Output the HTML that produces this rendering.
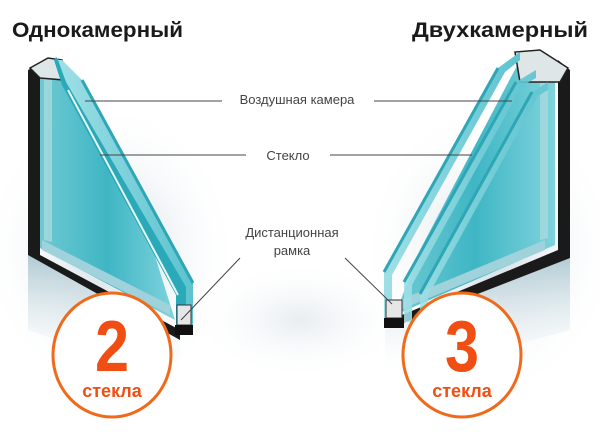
<!DOCTYPE html>
<html><head><meta charset="utf-8"><style>
html,body{margin:0;padding:0;background:#fff;}
svg{display:block}
</style></head><body>
<svg width="600" height="438" viewBox="0 0 600 438" xmlns="http://www.w3.org/2000/svg">
<defs>
<radialGradient id="sh" cx="0.5" cy="0.5" r="0.5">
<stop offset="0" stop-color="#c9d6df" stop-opacity="0.9"/>
<stop offset="1" stop-color="#ffffff" stop-opacity="0"/>
</radialGradient>
<linearGradient id="gl" x1="0" y1="0" x2="1" y2="0">
<stop offset="0" stop-color="#6ec9d3"/>
<stop offset="0.5" stop-color="#3fb6c4"/>
<stop offset="1" stop-color="#7fd3dc"/>
</linearGradient>
<linearGradient id="gl2" x1="0" y1="0" x2="1" y2="0">
<stop offset="0" stop-color="#9fdfe6"/>
<stop offset="1" stop-color="#5cc3cf"/>
</linearGradient>
<linearGradient id="ref" x1="0" y1="0" x2="0" y2="1">
<stop offset="0" stop-color="#a9c5cf"/>
<stop offset="1" stop-color="#ffffff" stop-opacity="0"/>
</linearGradient>
</defs>
<rect width="600" height="438" fill="#fff"/>
<ellipse cx="110" cy="250" rx="130" ry="150" fill="url(#sh)"/>
<ellipse cx="490" cy="250" rx="130" ry="150" fill="url(#sh)"/>
<ellipse cx="300" cy="320" rx="110" ry="60" fill="url(#sh)" opacity="0.5"/>

<!-- LEFT WINDOW -->
<polygon points="28,250 180,335 180,380 28,330" fill="url(#ref)"/>
<polygon points="28,70 40,64 40,255 180,330 180,340 28,255" fill="#1a1a1a"/>
<polygon points="40,70 58,60 150,240 175,320 40,248" fill="url(#gl)"/>
<polygon points="44,78 52,78 52,242 44,240" fill="#a8d9df" opacity="0.8"/>
<polygon points="42,240 170,305 170,315 42,250" fill="#9fd2da"/>
<polygon points="30,68 48,58 62,60 64,80 40,78" fill="#dfe6e8" stroke="#222" stroke-width="1.5"/>
<polygon points="56,57 82,82 186,285 186,333 176,330 176,295 62,85 54,60" fill="#2aa9b8"/>
<polygon points="62,60 82,80 193,283 193,330 186,333 186,287 66,82 58,60" fill="url(#gl2)"/>
<line x1="82" y1="80" x2="193" y2="283" stroke="#2ea6b5" stroke-width="3"/>
<line x1="68" y1="90" x2="178" y2="295" stroke="#e8f8fa" stroke-width="2"/>
<rect x="177" y="305" width="14" height="20" fill="#e6e6e6" stroke="#333" stroke-width="1"/>
<rect x="175" y="325" width="18" height="10" fill="#111"/>

<!-- RIGHT WINDOW -->
<polygon points="570,250 385,330 385,380 570,330" fill="url(#ref)"/>
<polygon points="570,70 558,60 558,250 390,320 390,328 570,258" fill="#1a1a1a"/>
<polygon points="555,70 520,60 420,250 395,315 555,245" fill="url(#gl)"/>
<polygon points="548,76 540,76 540,240 548,238" fill="#a8d9df" opacity="0.8"/>
<polygon points="545,240 400,300 400,310 545,250" fill="#9fd2da"/>
<polygon points="568,68 540,50 515,52 520,82 560,82" fill="#dfe6e8" stroke="#222" stroke-width="1.5"/>
<polygon points="520,52 498,68 384,270 384,320 392,320 392,275 505,72 520,60" fill="url(#gl2)"/>
<line x1="498" y1="68" x2="384" y2="272" stroke="#2ea6b5" stroke-width="3"/>
<polygon points="536,70 516,82 404,280 404,322 412,322 412,285 522,86 536,78" fill="url(#gl2)" opacity="0.9"/>
<line x1="516" y1="82" x2="404" y2="282" stroke="#2ea6b5" stroke-width="3"/>
<polygon points="548,82 532,92 420,292 420,322 428,322 428,296 538,96 548,90" fill="url(#gl2)" opacity="0.85"/>
<line x1="532" y1="92" x2="420" y2="294" stroke="#2ea6b5" stroke-width="3"/>
<rect x="386" y="300" width="16" height="18" fill="#e6e6e6" stroke="#333" stroke-width="1"/>
<rect x="384" y="318" width="20" height="10" fill="#111"/>

<!-- Titles -->
<text x="12" y="37" font-family="Liberation Sans, sans-serif" font-weight="bold" font-size="21" textLength="171" lengthAdjust="spacingAndGlyphs" fill="#1a1a1a">Однокамерный</text>
<text x="412" y="37" font-family="Liberation Sans, sans-serif" font-weight="bold" font-size="21" textLength="176" lengthAdjust="spacingAndGlyphs" fill="#1a1a1a">Двухкамерный</text>

<!-- Labels -->
<g font-family="Liberation Sans, sans-serif" font-size="13" fill="#444" text-anchor="middle">
<text x="297" y="104">Воздушная камера</text>
<text x="288" y="160">Стекло</text>
<text x="292" y="237">Дистанционная</text>
<text x="292" y="255">рамка</text>
</g>
<g stroke="#444" stroke-width="1">
<line x1="85" y1="101" x2="222" y2="101"/>
<line x1="374" y1="101" x2="512" y2="101"/>
<line x1="100" y1="155" x2="246" y2="155"/>
<line x1="330" y1="155" x2="472" y2="155"/>
<line x1="240" y1="258" x2="181" y2="320"/>
<line x1="345" y1="258" x2="392" y2="304"/>
</g>

<!-- Circles -->
<ellipse cx="112" cy="355" rx="59" ry="62" fill="#fff" stroke="#f06a1c" stroke-width="3"/>
<text transform="translate(112 371) scale(0.85 1)" text-anchor="middle" font-family="Liberation Sans, sans-serif" font-weight="bold" font-size="72" fill="#f04e12">2</text>
<text x="112" y="397" text-anchor="middle" font-family="Liberation Sans, sans-serif" font-weight="bold" font-size="18" fill="#f04e12">стекла</text>
<ellipse cx="462" cy="355" rx="59" ry="62" fill="#fff" stroke="#f06a1c" stroke-width="3"/>
<text transform="translate(462 371) scale(0.85 1)" text-anchor="middle" font-family="Liberation Sans, sans-serif" font-weight="bold" font-size="72" fill="#f04e12">3</text>
<text x="462" y="397" text-anchor="middle" font-family="Liberation Sans, sans-serif" font-weight="bold" font-size="18" fill="#f04e12">стекла</text>
</svg>
</body></html>
